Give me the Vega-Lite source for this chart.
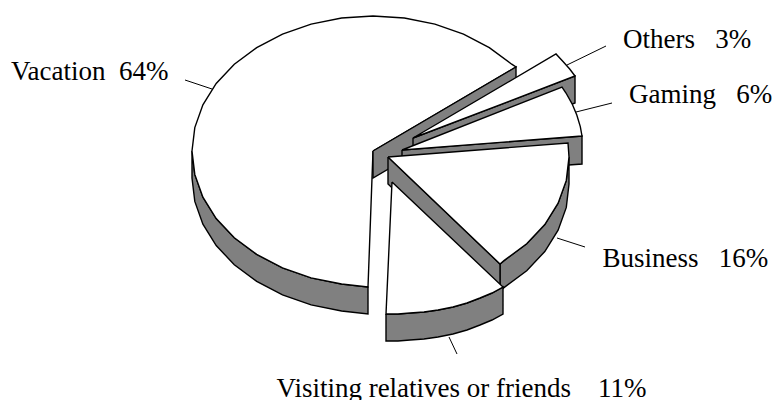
{"$schema":"https://vega.github.io/schema/vega-lite/v6.json","width":773,"height":400,"padding":0,"autosize":"none","background":"white","config":{"view":{"stroke":null}},
"datasets":{"shapes":[
{"part":"a1","tone":"side","i":1,"x":192,"y":151},{"part":"a1","tone":"side","i":2,"x":194.8,"y":174.4},{"part":"a1","tone":"side","i":3,"x":202.9,"y":197.2},{"part":"a1","tone":"side","i":4,"x":216.2,"y":218.5},{"part":"a1","tone":"side","i":5,"x":234.3,"y":237.8},{"part":"a1","tone":"side","i":6,"x":256.7,"y":254.4},{"part":"a1","tone":"side","i":7,"x":282.5,"y":267.9},{"part":"a1","tone":"side","i":8,"x":311.1,"y":277.9},{"part":"a1","tone":"side","i":9,"x":341.6,"y":284},{"part":"a1","tone":"side","i":10,"x":368,"y":287},{"part":"a1","tone":"side","i":11,"x":368,"y":314},{"part":"a1","tone":"side","i":12,"x":341.6,"y":311},{"part":"a1","tone":"side","i":13,"x":311.1,"y":304.9},{"part":"a1","tone":"side","i":14,"x":282.5,"y":294.9},{"part":"a1","tone":"side","i":15,"x":256.7,"y":281.4},{"part":"a1","tone":"side","i":16,"x":234.3,"y":264.8},{"part":"a1","tone":"side","i":17,"x":216.2,"y":245.5},{"part":"a1","tone":"side","i":18,"x":202.9,"y":224.2},{"part":"a1","tone":"side","i":19,"x":194.8,"y":201.4},{"part":"a1","tone":"side","i":20,"x":192,"y":178},{"part":"a1","tone":"side","i":21,"x":192,"y":151},
{"part":"a2","tone":"face","i":1,"x":373,"y":151},{"part":"a2","tone":"face","i":2,"x":516,"y":67},{"part":"a2","tone":"face","i":3,"x":511.7,"y":64.2},{"part":"a2","tone":"face","i":4,"x":489.3,"y":47.6},{"part":"a2","tone":"face","i":5,"x":463.5,"y":34.1},{"part":"a2","tone":"face","i":6,"x":434.9,"y":24.1},{"part":"a2","tone":"face","i":7,"x":404.4,"y":18},{"part":"a2","tone":"face","i":8,"x":373,"y":16},{"part":"a2","tone":"face","i":9,"x":341.6,"y":18},{"part":"a2","tone":"face","i":10,"x":311.1,"y":24.1},{"part":"a2","tone":"face","i":11,"x":282.5,"y":34.1},{"part":"a2","tone":"face","i":12,"x":256.7,"y":47.6},{"part":"a2","tone":"face","i":13,"x":234.3,"y":64.2},{"part":"a2","tone":"face","i":14,"x":216.2,"y":83.5},{"part":"a2","tone":"face","i":15,"x":202.9,"y":104.8},{"part":"a2","tone":"face","i":16,"x":194.8,"y":127.6},{"part":"a2","tone":"face","i":17,"x":192,"y":151},{"part":"a2","tone":"face","i":18,"x":194.8,"y":174.4},{"part":"a2","tone":"face","i":19,"x":202.9,"y":197.2},{"part":"a2","tone":"face","i":20,"x":216.2,"y":218.5},{"part":"a2","tone":"face","i":21,"x":234.3,"y":237.8},{"part":"a2","tone":"face","i":22,"x":256.7,"y":254.4},{"part":"a2","tone":"face","i":23,"x":282.5,"y":267.9},{"part":"a2","tone":"face","i":24,"x":311.1,"y":277.9},{"part":"a2","tone":"face","i":25,"x":341.6,"y":284},{"part":"a2","tone":"face","i":26,"x":368,"y":287},{"part":"a2","tone":"face","i":27,"x":373,"y":151},
{"part":"a3","tone":"side","i":1,"x":373,"y":151},{"part":"a3","tone":"side","i":2,"x":516,"y":67},{"part":"a3","tone":"side","i":3,"x":516,"y":94},{"part":"a3","tone":"side","i":4,"x":373,"y":178},{"part":"a3","tone":"side","i":5,"x":373,"y":151},
{"part":"b1","tone":"side","i":1,"x":413,"y":138},{"part":"b1","tone":"side","i":2,"x":575,"y":76},{"part":"b1","tone":"side","i":3,"x":575,"y":103},{"part":"b1","tone":"side","i":4,"x":413,"y":165},{"part":"b1","tone":"side","i":5,"x":413,"y":138},
{"part":"b2","tone":"face","i":1,"x":413,"y":138},{"part":"b2","tone":"face","i":2,"x":575,"y":76},{"part":"b2","tone":"face","i":3,"x":569.7,"y":69},{"part":"b2","tone":"face","i":4,"x":563,"y":61.5},{"part":"b2","tone":"face","i":5,"x":556,"y":54},{"part":"b2","tone":"face","i":6,"x":413,"y":138},
{"part":"c1","tone":"side","i":1,"x":402,"y":150},{"part":"c1","tone":"side","i":2,"x":582,"y":136},{"part":"c1","tone":"side","i":3,"x":582,"y":164},{"part":"c1","tone":"side","i":4,"x":402,"y":177},{"part":"c1","tone":"side","i":5,"x":402,"y":150},
{"part":"c2","tone":"face","i":1,"x":402,"y":150},{"part":"c2","tone":"face","i":2,"x":582,"y":136},{"part":"c2","tone":"face","i":3,"x":580.3,"y":126.6},{"part":"c2","tone":"face","i":4,"x":576.8,"y":115.1},{"part":"c2","tone":"face","i":5,"x":572.1,"y":103.8},{"part":"c2","tone":"face","i":6,"x":566,"y":93},{"part":"c2","tone":"face","i":7,"x":562,"y":87},{"part":"c2","tone":"face","i":8,"x":402,"y":150},
{"part":"d0","tone":"side","i":1,"x":569,"y":157},{"part":"d0","tone":"side","i":2,"x":566.3,"y":180.4},{"part":"d0","tone":"side","i":3,"x":558.1,"y":203.2},{"part":"d0","tone":"side","i":4,"x":544.8,"y":224.5},{"part":"d0","tone":"side","i":5,"x":526.7,"y":243.8},{"part":"d0","tone":"side","i":6,"x":504.3,"y":260.4},{"part":"d0","tone":"side","i":7,"x":500,"y":264},{"part":"d0","tone":"side","i":8,"x":500,"y":291},{"part":"d0","tone":"side","i":9,"x":504.3,"y":287.4},{"part":"d0","tone":"side","i":10,"x":526.7,"y":270.8},{"part":"d0","tone":"side","i":11,"x":544.8,"y":251.5},{"part":"d0","tone":"side","i":12,"x":558.1,"y":230.2},{"part":"d0","tone":"side","i":13,"x":566.3,"y":207.4},{"part":"d0","tone":"side","i":14,"x":569,"y":184},{"part":"d0","tone":"side","i":15,"x":569,"y":157},
{"part":"d1","tone":"side","i":1,"x":388,"y":157},{"part":"d1","tone":"side","i":2,"x":500,"y":264},{"part":"d1","tone":"side","i":3,"x":500,"y":291},{"part":"d1","tone":"side","i":4,"x":388,"y":184},{"part":"d1","tone":"side","i":5,"x":388,"y":157},
{"part":"d2","tone":"face","i":1,"x":388,"y":157},{"part":"d2","tone":"face","i":2,"x":568,"y":143},{"part":"d2","tone":"face","i":3,"x":569,"y":157},{"part":"d2","tone":"face","i":4,"x":566.3,"y":180.4},{"part":"d2","tone":"face","i":5,"x":558.1,"y":203.2},{"part":"d2","tone":"face","i":6,"x":544.8,"y":224.5},{"part":"d2","tone":"face","i":7,"x":526.7,"y":243.8},{"part":"d2","tone":"face","i":8,"x":504.3,"y":260.4},{"part":"d2","tone":"face","i":9,"x":500,"y":264},{"part":"d2","tone":"face","i":10,"x":388,"y":157},
{"part":"e1","tone":"side","i":1,"x":386,"y":314},{"part":"e1","tone":"side","i":2,"x":398,"y":314},{"part":"e1","tone":"side","i":3,"x":410,"y":313},{"part":"e1","tone":"side","i":4,"x":424,"y":312},{"part":"e1","tone":"side","i":5,"x":438,"y":310},{"part":"e1","tone":"side","i":6,"x":453,"y":307},{"part":"e1","tone":"side","i":7,"x":467,"y":303},{"part":"e1","tone":"side","i":8,"x":480,"y":298},{"part":"e1","tone":"side","i":9,"x":492,"y":293},{"part":"e1","tone":"side","i":10,"x":503,"y":287},{"part":"e1","tone":"side","i":11,"x":503,"y":314},{"part":"e1","tone":"side","i":12,"x":492,"y":320},{"part":"e1","tone":"side","i":13,"x":480,"y":325},{"part":"e1","tone":"side","i":14,"x":467,"y":330},{"part":"e1","tone":"side","i":15,"x":453,"y":334},{"part":"e1","tone":"side","i":16,"x":438,"y":337},{"part":"e1","tone":"side","i":17,"x":424,"y":339},{"part":"e1","tone":"side","i":18,"x":410,"y":340},{"part":"e1","tone":"side","i":19,"x":398,"y":341},{"part":"e1","tone":"side","i":20,"x":386,"y":341},{"part":"e1","tone":"side","i":21,"x":386,"y":314},
{"part":"e2","tone":"face","i":1,"x":392,"y":182},{"part":"e2","tone":"face","i":2,"x":503,"y":287},{"part":"e2","tone":"face","i":3,"x":492,"y":293},{"part":"e2","tone":"face","i":4,"x":480,"y":298},{"part":"e2","tone":"face","i":5,"x":467,"y":303},{"part":"e2","tone":"face","i":6,"x":453,"y":307},{"part":"e2","tone":"face","i":7,"x":438,"y":310},{"part":"e2","tone":"face","i":8,"x":424,"y":312},{"part":"e2","tone":"face","i":9,"x":410,"y":313},{"part":"e2","tone":"face","i":10,"x":398,"y":314},{"part":"e2","tone":"face","i":11,"x":386,"y":314},{"part":"e2","tone":"face","i":12,"x":392,"y":182}
],
"leaders":[
{"slice":"Vacation","i":1,"x":212,"y":89},{"slice":"Vacation","i":2,"x":185,"y":80},
{"slice":"Others","i":1,"x":567,"y":65},{"slice":"Others","i":2,"x":606,"y":46},
{"slice":"Gaming","i":1,"x":576,"y":112},{"slice":"Gaming","i":2,"x":612,"y":103},
{"slice":"Business","i":1,"x":557,"y":238},{"slice":"Business","i":2,"x":585,"y":247},
{"slice":"Visiting","i":1,"x":449,"y":337},{"slice":"Visiting","i":2,"x":457,"y":354}
],
"labels":[
{"label":"Vacation\u00a0\u00a064%","x":11,"y":80},
{"label":"Others\u00a0\u00a0\u00a03%","x":623,"y":48},
{"label":"Gaming\u00a0\u00a0\u00a06%","x":629,"y":103},
{"label":"Business\u00a0\u00a0\u00a016%","x":602.5,"y":267},
{"label":"Visiting relatives or friends\u00a0\u00a0\u00a0\u00a011%","x":276.5,"y":397}
]},
"layer":[
{"data":{"name":"shapes"},"mark":{"type":"line","filled":true,"stroke":"black","strokeWidth":1.4,"strokeJoin":"miter","clip":false},"encoding":{
"x":{"field":"x","type":"quantitative","scale":{"domain":[0,773],"nice":false,"zero":false},"axis":null},
"y":{"field":"y","type":"quantitative","scale":{"domain":[400,0],"nice":false,"zero":false},"axis":null},
"detail":{"field":"part"},"order":{"field":"i","type":"quantitative"},
"fill":{"field":"tone","type":"nominal","scale":{"domain":["face","side"],"range":["#ffffff","#808080"]},"legend":null}}},
{"data":{"name":"leaders"},"mark":{"type":"line","stroke":"black","strokeWidth":1},"encoding":{
"x":{"field":"x","type":"quantitative"},"y":{"field":"y","type":"quantitative"},
"detail":{"field":"slice"},"order":{"field":"i","type":"quantitative"}}},
{"data":{"name":"labels"},"mark":{"type":"text","font":"Liberation Serif","fontSize":27,"align":"left","baseline":"alphabetic","color":"black"},"encoding":{
"x":{"field":"x","type":"quantitative"},"y":{"field":"y","type":"quantitative"},"text":{"field":"label"}}}
]}
